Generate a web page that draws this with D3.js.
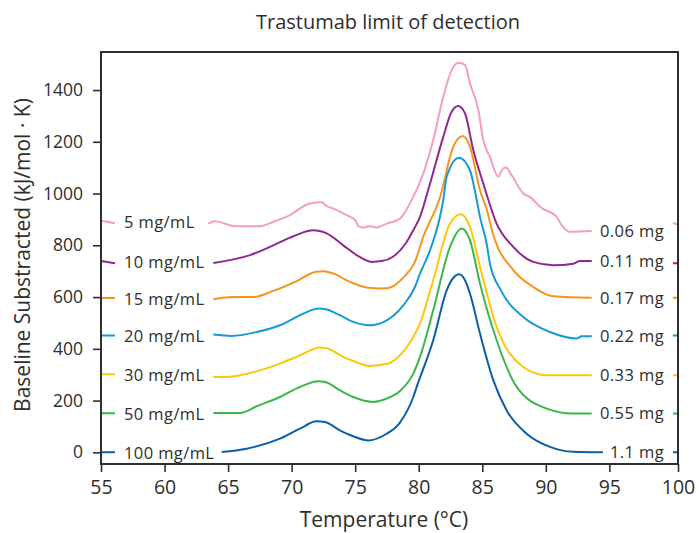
<!DOCTYPE html>
<html>
<head>
<meta charset="utf-8">
<script src="https://cdn.jsdelivr.net/npm/d3@7"></script>
<style>
  html, body { margin: 0; padding: 0; background: #ffffff; }
  svg { display: block; font-family: "Open Sans", "Noto Sans", sans-serif; }
</style>
</head>
<body>
<svg id="chart" width="699" height="533"></svg>
<script>
// ---------------- data ----------------
const chartTitle = "Trastumab limit of detection";
const xAxisTitle = "Temperature (°C)";
const yAxisTitle = "Baseline Substracted (kJ/mol · K)";

const xTickValues = [55, 60, 65, 70, 75, 80, 85, 90, 95, 100.4];
const xTickLabels = ["55", "60", "65", "70", "75", "80", "85", "90", "95", "100"];
const yTickValues = [0, 200, 400, 600, 800, 1000, 1200, 1400];

const concentrations = ["5 mg/mL", "10 mg/mL", "15 mg/mL", "20 mg/mL", "30 mg/mL", "50 mg/mL", "100 mg/mL"];
const amounts = ["0.06 mg", "0.11 mg", "0.17 mg", "0.22 mg", "0.33 mg", "0.55 mg", "1.1 mg"];
const seriesColors = ["#f59dc3", "#92278f", "#f7941d", "#139bd8", "#ffc70a", "#3cb64a", "#0a60a8"];

// [temperature °C, kJ/(mol·K)]; null = stretch hidden behind the text labels
const s5 = [[55,895],[56.1,885],null,
  [63.44,884],[63.97,893],[65.54,874],[67.51,874],[68.56,891],[69.87,917],[71.44,962],[72.36,966],
  [72.76,951],[73.28,942],[74.33,917],[75.06,894],[75.24,874],[75.64,869],[76.16,874],[76.69,869],
  [77.48,884],[78.52,903],[79.31,962],[80.36,1078],[81.14,1207],[81.93,1374],[82.59,1477],[83.11,1505],
  [83.64,1497],[84.03,1426],[84.69,1323],[85.08,1207],[85.6,1142],[86.26,1065],[86.53,1090],[86.86,1101],
  [87.31,1071],[88.23,1000],[88.75,987],[89.28,962],[89.54,949],[90.85,910],[91.25,878],[91.9,852],
  [93.61,855],null,[100.0,886],[100.4,880]];
const s10 = [[55,739],[56.1,731],null,
  [63.84,732],[66.72,762],[68.56,800],[70.13,835],[71.7,858],[72.1,856],[72.76,846],[74.06,800],
  [75.12,762],[76.3,736],[77.09,739],[78.0,757],[79.05,813],[79.57,858],[80.1,910],[80.89,1039],
  [81.93,1219],[82.59,1316],[83.11,1338],[83.64,1310],[84.29,1168],[85.08,1039],[86.13,884],[87.44,794],
  [89.01,736],[90.59,723],[92.16,729],[92.69,739],[93.61,739],null,[100.0,731],[100.4,731]];
const s15 = [[55,596],[56.1,596],null,
  [63.84,592],[65.41,600],[66.98,600],[68.56,624],[70.4,662],[71.84,697],[72.49,700],[73.28,691],
  [74.59,659],[75.9,637],[77.09,633],[77.87,639],[78.78,675],[79.7,736],[80.36,833],[81.67,985],
  [82.72,1181],[83.46,1222],[84.03,1181],[84.82,1013],[85.34,940],[85.87,840],[87.44,704],[89.01,639],
  [90.59,603],[93.61,597],null,[100.0,597],[100.4,597]];
const s20 = [[55,452],[56.1,452],null,
  [63.84,455],[65.28,450],[67.25,465],[69.08,491],[70.92,536],[72.1,556],[72.76,552],[73.8,530],
  [74.85,504],[76.16,491],[77.48,510],[78.78,568],[79.7,639],[80.1,691],[80.89,781],[81.93,975],
  [82.2,1065],[83.17,1138],[84.03,1090],[84.56,975],[84.82,910],[85.34,807],[85.6,730],[86.47,626],
  [88.23,523],[90.33,465],[92.43,440],[92.82,449],[93.61,449],null,[100.0,452],[100.4,452]];
const s30 = [[55,302],[56.1,302],null,
  [63.84,291],[64.76,291],[67.51,317],[69.08,343],[70.66,375],[72.23,405],[72.76,402],[74.06,369],
  [74.85,353],[76.16,334],[77.6,343],[78.52,375],[79.57,446],[80.1,498],[81.14,665],[82.46,884],
  [83.32,920],[84.03,871],[84.82,717],[86.13,485],[88.23,330],[90.07,298],[93.61,298],null,
  [100.0,298],[100.4,298]];
const s50 = [[55,151],[56.1,151],null,
  [63.84,152],[65.94,152],[67.25,178],[69.08,214],[70.66,253],[72.1,275],[72.76,270],[73.8,240],
  [74.85,214],[76.42,195],[77.48,208],[78.52,237],[79.57,304],[80.1,369],[81.14,549],[82.46,794],
  [83.38,865],[84.03,820],[84.82,652],[86.13,433],[87.71,253],[90.07,169],[92.16,150],[93.61,150],null,
  [100.0,150],[100.4,150]];
const s100 = [[55,0],[56.1,0],null,
  [64.5,1],[66.46,14],[69.08,53],[70.66,92],[71.97,120],[72.62,117],[73.8,85],[74.85,62],[76.03,46],
  [77.34,68],[78.52,115],[79.57,214],[79.84,253],[81.14,433],[82.2,626],[82.66,670],[83.19,688],
  [83.64,665],[84.03,614],[84.82,459],[85.87,278],[86.92,162],[88.49,72],[90.33,21],[92.16,2],
  [94.5,0],null,[100.0,0],[100.4,0]];

const allSeries = [s5, s10, s15, s20, s30, s50, s100];

// ---------------- layout ----------------
const svg = d3.select("#chart");
const mLeft = 101, mRight = 678, mTop = 52, mBottom = 464;
const ink = "#2e2e2e";

const x = d3.scaleLinear().domain([55, 100.4]).range([mLeft, mRight]);
const y = d3.scaleLinear().domain([-45, 1547]).range([mBottom, mTop]);

// title
svg.append("text").attr("x", 388).attr("y", 29).attr("text-anchor", "middle")
  .attr("font-size", 20).attr("fill", ink).text(chartTitle);

// curves
const line = d3.line()
  .defined(d => d !== null)
  .x(d => x(d[0])).y(d => y(d[1]))
  .curve(d3.curveMonotoneX);

const g = svg.append("g");
allSeries.forEach((s, i) => {
  g.append("path").datum(s)
    .attr("d", line)
    .attr("fill", "none")
    .attr("stroke", seriesColors[i])
    .attr("stroke-width", 2)
    .attr("stroke-linejoin", "round");
});

// labels
allSeries.forEach((s, i) => {
  const firstPt = s[0];
  const nulls = s.map((d, k) => d === null ? k : -1).filter(k => k >= 0);
  const lastPt = s[nulls[nulls.length - 1] - 1];
  svg.append("text")
    .attr("x", 124).attr("y", y(firstPt[1]) + 1).attr("dy", "0.35em")
    .attr("font-size", 16.5).attr("letter-spacing", 0.4).attr("fill", ink)
    .text(concentrations[i]);
  svg.append("text")
    .attr("x", 664).attr("y", y(lastPt[1])).attr("dy", "0.35em")
    .attr("text-anchor", "end")
    .attr("font-size", 16.5).attr("letter-spacing", 0.4).attr("fill", ink)
    .text(amounts[i]);
});

// axes
const xAxis = d3.axisBottom(x).tickValues(xTickValues)
  .tickFormat((d, i) => xTickLabels[i]).tickSize(8).tickPadding(8);
const yAxis = d3.axisLeft(y).tickValues(yTickValues)
  .tickFormat(d3.format("d")).tickSize(8).tickPadding(10);

const gx = svg.append("g").attr("transform", `translate(0,${mBottom})`).call(xAxis);
const gy = svg.append("g").attr("transform", `translate(${mLeft},0)`).call(yAxis);
[gx, gy].forEach(a => {
  a.select(".domain").remove();
  a.selectAll(".tick line").attr("stroke", ink).attr("stroke-width", 1.6);
  a.selectAll(".tick text").attr("fill", ink).attr("font-family", "Open Sans, sans-serif");
});
gx.selectAll(".tick text").attr("font-size", 19.5);
gy.selectAll(".tick text").attr("font-size", 17.5);

// frame
svg.append("rect").attr("x", mLeft).attr("y", mTop)
  .attr("width", mRight - mLeft).attr("height", mBottom - mTop)
  .attr("fill", "none").attr("stroke", ink).attr("stroke-width", 2);

// axis titles
svg.append("text").attr("x", 384).attr("y", 527).attr("text-anchor", "middle")
  .attr("font-size", 21).attr("fill", ink).text(xAxisTitle);
svg.append("text")
  .attr("transform", `translate(30,${(mTop + mBottom) / 2 - 3}) rotate(-90)`)
  .attr("text-anchor", "middle")
  .attr("font-size", 21).attr("fill", ink).text(yAxisTitle);
</script>
</body>
</html>
